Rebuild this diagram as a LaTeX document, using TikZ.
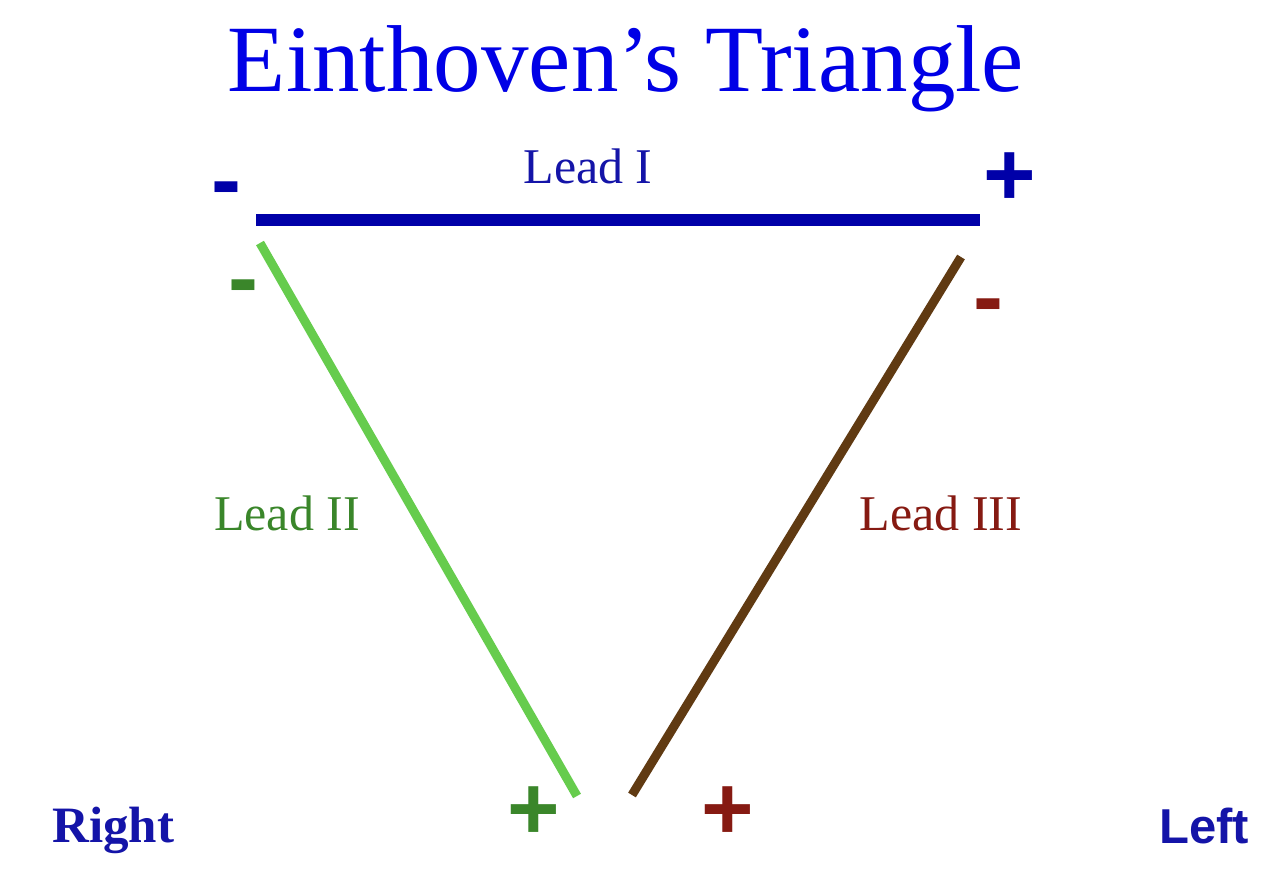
\documentclass[tikz,border=0pt]{standalone}
\usepackage{fontspec}
\setmainfont{Liberation Serif}
\setsansfont{Liberation Sans}
\definecolor{titleblue}{HTML}{0000E6}
\definecolor{leadblue}{HTML}{0000A8}
\definecolor{textblue}{HTML}{1414A8}
\definecolor{lgreen}{HTML}{66CC4D}
\definecolor{dgreen}{HTML}{3A862A}
\definecolor{brownline}{HTML}{603A12}
\definecolor{dred}{HTML}{861A12}
\begin{document}
\begin{tikzpicture}[x=1pt,y=-1pt,
  lbl/.style={inner sep=0pt, anchor=base, font=\fontsize{50}{60}\selectfont},
  sgnplus/.style={inner sep=0pt, anchor=center, font=\sffamily\bfseries\fontsize{90}{100}\selectfont},
  sgnminus/.style={inner sep=0pt, anchor=mid, font=\sffamily\bfseries\fontsize{90}{100}\selectfont},
  side/.style={inner sep=0pt, anchor=base, text=textblue},
  lead/.style={line width=#1, line cap=butt}]
\useasboundingbox[fill=white] (0,0) rectangle (1280,876);
% title
\node[inner sep=0pt, anchor=base, text=titleblue, font=\fontsize{95}{100}\selectfont] (title) at (626,91) {Einthoven’s Triangle};
% line end points
\coordinate (IA) at (256,220);
\coordinate (IB) at (980,220);
\coordinate (IIA) at (260,243);
\coordinate (IIB) at (577,796);
\coordinate (IIIA) at (961,257);
\coordinate (IIIB) at (632,795);
\draw[lead=12pt, leadblue] (IA) -- (IB);
\draw[lead=9pt, lgreen] (IIA) -- (IIB);
\draw[lead=9pt, brownline] (IIIA) -- (IIIB);
% labels
\node[lbl, text=textblue] (l1) at (588,183) {Lead I};
\node[lbl, text=dgreen] (l2) at (287,530) {Lead II};
\node[lbl, text=dred] (l3) at (941,530) {Lead III};
% signs
\node[sgnminus, text=leadblue] (m1) at (226,208) {-};
\node[sgnplus, text=leadblue] (p1) at (1010,179) {+};
\node[sgnminus, text=dgreen] (m2) at (243,306) {-};
\node[sgnminus, text=dred] (m3) at (988,325) {-};
\node[sgnplus, text=dgreen] (p2) at (534,813) {+};
\node[sgnplus, text=dred] (p3) at (728,813) {+};
% sides
\node[side, anchor=base west, font=\bfseries\fontsize{51}{60}\selectfont] (right) at (52,842) {Right};
\node[side, font=\sffamily\bfseries\fontsize{49}{60}\selectfont] (left) at (1204,843) {Left};
\end{tikzpicture}
\end{document}
